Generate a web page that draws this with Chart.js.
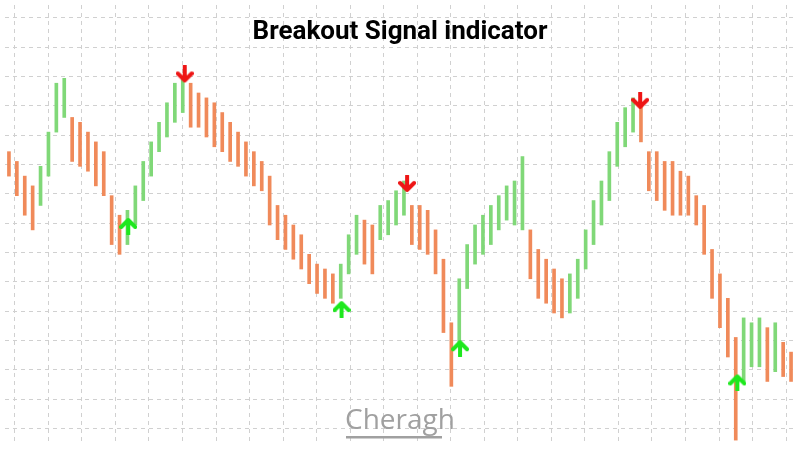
<!DOCTYPE html>
<html><head><meta charset="utf-8">
<script src="https://cdn.jsdelivr.net/npm/chart.js@4/dist/chart.umd.min.js"></script>
<style>html,body{margin:0;background:#fff}#wrap{width:800px;height:450px}</style>
</head><body><div id="wrap"><canvas id="c"></canvas></div>
<script>
// bar ranges, read as screen-y values (axis is reversed)
const barTop = [150,160,175,185,165,130,80,75,115,120,130,140,150,195,215,210,185,160,140,120,100,80,75,80,90,95,100,110,120,130,140,150,160,175,205,215,225,235,255,265,270,275,265,235,215,220,225,205,200,190,180,205,205,210,230,260,325,280,245,225,215,205,195,185,180,155,230,250,260,270,280,275,260,230,200,180,150,120,105,95,100,150,150,160,160,170,175,195,205,250,275,300,340,320,325,320,330,325,345,355];
const barBottom = [175,195,215,230,205,175,130,115,160,165,170,185,195,245,255,245,225,200,175,150,135,120,110,125,125,135,145,150,160,165,175,185,190,225,240,250,260,270,285,295,300,305,300,275,255,265,275,240,235,225,215,245,250,255,275,335,390,345,290,265,255,245,230,220,225,230,280,300,305,315,320,315,300,270,245,225,200,165,145,130,140,190,200,210,215,215,215,225,255,300,330,360,445,385,370,370,385,375,380,385];
const upArrows = [{x:15.1,y:226},{x:42.1,y:311},{x:57.1,y:351},{x:92.2,y:386}];
const downArrows = [{x:22.25,y:71},{x:50.4,y:183},{x:79.9,y:98}];

const mids = barTop.map((t,i)=>(t+barBottom[i])/2);
const barColors = mids.map((m,i)=> i==0 ? '#f08a5a' : (m<=mids[i-1] ? '#80d878' : '#f08a5a'));

function arrow(color, up){   // arrow icon for the signals
  const c=document.createElement('canvas'); c.width=18; c.height=18;
  const g=c.getContext('2d'); g.strokeStyle=color; g.lineWidth=4; g.lineCap='round'; g.lineJoin='round';
  if(!up){ g.translate(0,18); g.scale(1,-1); }
  g.beginPath(); g.moveTo(9,17); g.lineTo(9,3); g.moveTo(2,10); g.lineTo(9,3); g.lineTo(16,10); g.stroke();
  return c;
}

const xGrid=[], yGrid=[];
for(let p=10;p<800;p+=35.5) xGrid.push({value:p});
for(let p=13;p<450;p+=30) yGrid.push({value:p});
const gridOpt={color:'#d0d0d0',lineWidth:1,drawTicks:false};

const decor={id:'decor',afterDraw(ch){
  const g=ch.ctx; g.save();
  g.fillStyle='#000'; g.font='bold 26px Roboto'; g.textAlign='center'; g.textBaseline='middle';
  g.fillText('Breakout Signal indicator',400,32);
  g.fillStyle='#a0a0a0'; g.font='28px "Open Sans"'; g.fillText('Cheragh',400,421);
  g.fillRect(346,436,96,2.5);
  g.restore();
}};

new Chart('c',{
  type:'bar',
  data:{datasets:[
    {type:'scatter',data:upArrows,pointStyle:arrow('#1ee81e',true),order:0},
    {type:'scatter',data:downArrows,pointStyle:arrow('#ee1515',false),order:0},
    {data:barTop.map((t,i)=>({x:i,y:[t,barBottom[i]]})),backgroundColor:barColors,barThickness:3,order:1}
  ]},
  options:{
    animation:false,responsive:true,maintainAspectRatio:false,
    layout:{padding:0},
    plugins:{legend:{display:false},tooltip:{enabled:false}},
    scales:{
      x:{type:'linear',display:false,offset:false,min:-0.5,max:99.5},
      xg:{type:'linear',min:0,max:800,position:'bottom',afterBuildTicks:s=>{s.ticks=xGrid},
          grid:{...gridOpt},border:{display:false,dash:[4,4]},ticks:{display:false}},
      y:{min:0,max:450,reverse:true,afterBuildTicks:s=>{s.ticks=yGrid},
         grid:{...gridOpt},border:{display:false,dash:[4,4]},ticks:{display:false}}
    }
  },
  plugins:[decor]
});
</script></body></html>
